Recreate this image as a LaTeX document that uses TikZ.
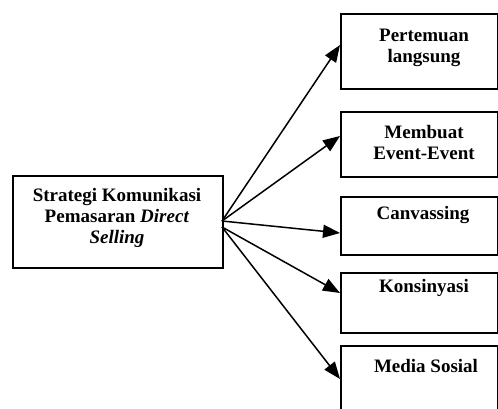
\documentclass[tikz,border=0pt]{standalone}
\usepackage{fontspec}
\setmainfont{Liberation Serif}
\usetikzlibrary{arrows.meta}
\begin{document}
\begin{tikzpicture}[x=1pt,y=-1pt,
  boxnode/.style={draw=black, line width=1.8pt, rectangle, inner sep=0pt, anchor=north west},
  lbl/.style={font=\bfseries\fontsize{19}{21}\selectfont, align=center, inner sep=0pt, anchor=north},
  arr/.style={line width=1.5pt, -{Triangle[length=17pt,width=13pt]}}]
\useasboundingbox (0,0) rectangle (498,409);
\clip (0,0) rectangle (498,409);
% left box
\node[boxnode, minimum width=210pt, minimum height=92pt] (L) at (12,175) {};
\node[lbl] (Lt) at (117,188) {Strategi Komunikasi\\Pemasaran \textit{Direct}\\\textit{Selling}};
% right boxes
\node[boxnode, minimum width=157pt, minimum height=75pt] (B1) at (340,13) {};
\node[boxnode, minimum width=157pt, minimum height=65pt] (B2) at (340,111) {};
\node[boxnode, minimum width=157pt, minimum height=58pt] (B3) at (340,196) {};
\node[boxnode, minimum width=157pt, minimum height=60pt] (B4) at (340,272) {};
\node[boxnode, minimum width=157pt, minimum height=80pt] (B5) at (340,345) {};
\node[lbl] (T1) at (424,29) {Pertemuan\\langsung};
\node[lbl] (T2) at (424,125) {Membuat\\Event-Event};
\node[lbl] (T3) at (423,206) {Canvassing};
\node[lbl] (T4) at (424,279) {Konsinyasi};
\node[lbl] (T5) at (426,359) {Media Sosial};
% origins
\coordinate (o1) at (222,221);
\coordinate (o2) at (222,227);
\draw[arr] (o1) -- (B1.west |- 0,45);
\draw[arr] (o1) -- (B2.west |- 0,136);
\draw[arr] (o1) -- (B3.west |- 0,233);
\draw[arr] (o2) -- (B4.west |- 0,293);
\draw[arr] (o2) -- (B5.west |- 0,379);
\end{tikzpicture}
\end{document}
